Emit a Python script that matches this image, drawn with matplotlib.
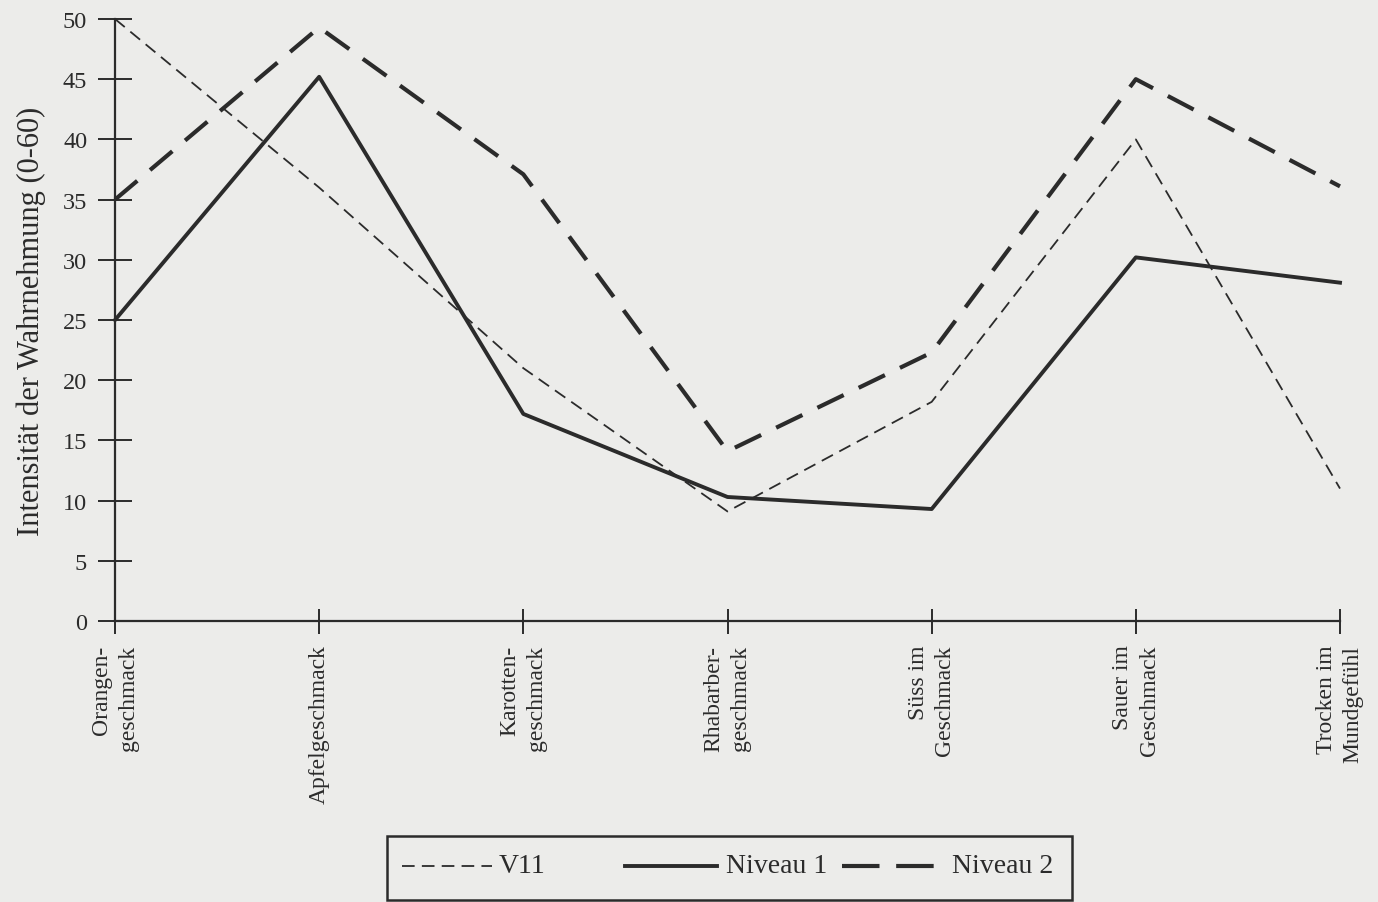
import matplotlib
matplotlib.use("Agg")
import matplotlib.pyplot as plt
from matplotlib.lines import Line2D
from matplotlib.patches import Rectangle

categories = ["Orangen-\ngeschmack", "Apfelgeschmack", "Karotten-\ngeschmack",
              "Rhabarber-\ngeschmack", "Süss im\nGeschmack", "Sauer im\nGeschmack",
              "Trocken im\nMundgefühl"]
v11 = [50, 36, 21, 9.1, 18.2, 40, 11]
niveau1 = [25, 45.2, 17.2, 10.3, 9.3, 30.2, 28.1]
niveau2 = [35, 49.3, 37.1, 14.1, 22.3, 45, 36.1]
yticks = [0, 5, 10, 15, 20, 25, 30, 35, 40, 45, 50]
series_names = ["V11", "Niveau 1", "Niveau 2"]

ink = "#2b2b2b"
bg = "#ececea"
plt.rcParams['font.family'] = ['Liberation Serif', 'DejaVu Serif']

W, H = 1378, 903
fig = plt.figure(figsize=(W/100, H/100), dpi=100, facecolor=bg)
ax = fig.add_axes([115/W, 1-622/H, (1340-115)/W, (622-20)/H])
ax.set_facecolor(bg)
x = list(range(len(categories)))

styles = [dict(lw=1.3, dashes=(7, 4)),
          dict(lw=2.8),
          dict(lw=3.0, dashes=(7, 4))]
for vals, st in zip([v11, niveau1, niveau2], styles):
    ax.plot(x, vals, color=ink, clip_on=False, **st)

ax.set_xlim(0, len(categories) - 1)
ax.set_ylim(0, 50)
for s in ["top", "right"]:
    ax.spines[s].set_visible(False)
for s in ["left", "bottom"]:
    ax.spines[s].set_color(ink)
    ax.spines[s].set_linewidth(1.6)

ax.set_yticks(yticks)
ax.set_yticklabels([str(t) for t in yticks], fontsize=17.5, color=ink)
ax.tick_params(axis='y', direction='inout', length=24, width=1.4, color=ink, pad=8)
ax.set_xticks(x)
ax.set_xticklabels(categories, rotation=90, fontsize=17, color=ink,
                   va='top', ha='center', multialignment='right', linespacing=1.35)
ax.tick_params(axis='x', direction='inout', length=18, width=1.4, color=ink, pad=8)

ax.set_ylabel("Intensität der Wahrnehmung (0-60)", fontsize=22, color=ink, labelpad=12)

# legend drawn in figure pixel coordinates
def fx(px):
    return px / W
def fy(py):
    return 1 - py / H

fig.patches.append(Rectangle((fx(387), fy(901)), fx(1072) - fx(387), fy(837) - fy(901),
                             transform=fig.transFigure, fill=False,
                             edgecolor=ink, linewidth=1.8))
legend_styles = [dict(lw=1.3, dashes=(7, 4)),
                 dict(lw=2.8),
                 dict(lw=3.0, dashes=(9, 4))]
handle_spans = [(402, 492), (625, 717), (842, 950)]
text_x = [499, 726, 952]
for name, st, (a, b), tx in zip(series_names, legend_styles, handle_spans, text_x):
    fig.add_artist(Line2D([fx(a), fx(b)], [fy(867), fy(867)], transform=fig.transFigure,
                          color=ink, **st))
    fig.text(fx(tx), fy(867), name, fontsize=20, color=ink, va='center', ha='left')

fig.savefig("out.png", dpi=100, facecolor=bg)
